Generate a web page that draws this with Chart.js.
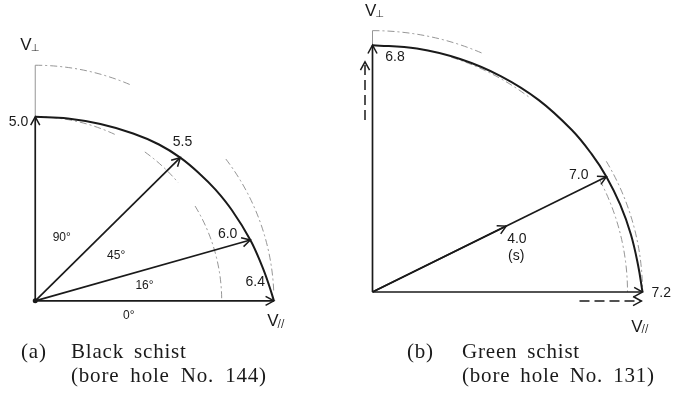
<!DOCTYPE html>
<html>
<head>
<meta charset="utf-8">
<script src="https://cdn.jsdelivr.net/npm/chart.js@4"></script>
<style>
  body { margin: 0; background: #fff; }
  #wrap { position: relative; width: 675px; height: 394px; overflow: hidden; background: #fff; }
  .panel { position: absolute; top: 0; }
  .cap {
    position: absolute;
    font-family: "Liberation Serif", "Times New Roman", serif;
    font-size: 21px;
    color: #1a1a1a;
    letter-spacing: 0.8px;
    word-spacing: 4px;
    white-space: nowrap;
    line-height: 24px;
  }
</style>
</head>
<body>
<div id="wrap">
  <div class="panel" style="left:0;width:337px;height:340px"><canvas id="chartA" width="337" height="340"></canvas></div>
  <div class="panel" style="left:337px;width:338px;height:340px"><canvas id="chartB" width="338" height="340"></canvas></div>
  <div class="cap" style="left:21px;top:339px">(a)</div>
  <div class="cap" style="left:71px;top:339px">Black schist</div>
  <div class="cap" style="left:71px;top:363px;word-spacing:5px">(bore hole No. 144)</div>
  <div class="cap" style="left:407px;top:339px">(b)</div>
  <div class="cap" style="left:462px;top:339px">Green schist</div>
  <div class="cap" style="left:462px;top:363px">(bore hole No. 131)</div>
</div>
<script>
// --------------------
// Data (velocities in km/s, angles in degrees from V//)
// --------------------

// (a) Black schist, bore hole No. 144
const anglesA = [90, 45, 16, 0];
const velocityA = [5.0, 5.5, 6.0, 6.4];
// solid curve: direction and velocity
const curveAngA = [90, 80, 70, 60, 52, 45, 38, 32, 25, 16, 9, 4, 0];
const curveVelA = [5.00, 5.03, 5.11, 5.25, 5.39, 5.50, 5.60, 5.70, 5.82, 6.00, 6.15, 6.28, 6.40];
// dashed reference circles and the parts of them that are visible
const refRadiiA = [6.4, 5.0];
const refArcsA = [[[90, 66], [37, 2]], [[90, 64], [54, 40], [31, 0]]];

// (b) Green schist, bore hole No. 131
const anglesB = [90, 27, 0];
const velocityB = [6.8, 7.0, 7.2];
const shearAngleB = 27;
const shearVelocityB = 4.0;
const curveAngB = [90, 80, 70, 60, 50, 40, 33, 27, 20, 13, 6, 0];
const curveVelB = [6.80, 6.81, 6.83, 6.86, 6.90, 6.94, 6.97, 7.00, 7.03, 7.07, 7.12, 7.20];
const refRadiiB = [7.2, 6.8];
const refArcsB = [[[90, 66], [30, 1]], [[72, 52], [27, 0]]];
// dashed direction arrows beside the axes (V//, V⊥ coordinates)
const dashUpB = [[-0.2, 4.74], [-0.2, 6.34]];
const dashRightB = [[5.52, -0.25], [7.17, -0.25]];

// --------------------
// Helpers
// --------------------
const INK = "#1a1a1a";
const FAINT = "#8a8a8a";
const NUM_FONT = "14px 'Liberation Sans', Arial, sans-serif";
const DEG_FONT = "12px 'Liberation Sans', Arial, sans-serif";

function polar(v, deg) {
  const t = deg * Math.PI / 180;
  return { x: v * Math.cos(t), y: v * Math.sin(t) };
}

function line(points, extra) {
  return Object.assign({
    data: points,
    showLine: true,
    borderColor: INK,
    borderWidth: 1.7,
    pointRadius: 0,
    tension: 0
  }, extra || {});
}

// open arrow heads at the last point of datasets flagged with arrow
const arrowPlugin = {
  id: "arrows",
  afterDatasetsDraw(chart) {
    const ctx = chart.ctx;
    chart.data.datasets.forEach((ds, i) => {
      if (!ds.arrow) return;
      const pts = chart.getDatasetMeta(i).data;
      const a = pts[pts.length - 2], b = pts[pts.length - 1];
      const ang = Math.atan2(b.y - a.y, b.x - a.x);
      const L = 9.5, w = 0.5;
      ctx.save();
      ctx.strokeStyle = INK;
      ctx.lineWidth = 1.5;
      ctx.beginPath();
      ctx.moveTo(b.x - L * Math.cos(ang - w), b.y - L * Math.sin(ang - w));
      ctx.lineTo(b.x, b.y);
      ctx.lineTo(b.x - L * Math.cos(ang + w), b.y - L * Math.sin(ang + w));
      ctx.stroke();
      ctx.restore();
    });
  }
};

// dashed reference circles, drawn through the chart's own scales
function refCirclePlugin(radii, arcs) {
  return {
    id: "refCircles",
    beforeDatasetsDraw(chart) {
      const ctx = chart.ctx;
      const xs = chart.scales.x, ys = chart.scales.y;
      const cx = xs.getPixelForValue(0), cy = ys.getPixelForValue(0);
      ctx.save();
      ctx.strokeStyle = FAINT;
      ctx.lineWidth = 0.9;
      ctx.setLineDash([7, 3, 2, 3]);
      radii.forEach((r, i) => {
        const rx = xs.getPixelForValue(r) - cx;
        const ry = cy - ys.getPixelForValue(r);
        arcs[i].forEach(([from, to]) => {
          ctx.beginPath();
          ctx.ellipse(cx, cy, rx, ry, 0, -from * Math.PI / 180, -to * Math.PI / 180, false);
          ctx.stroke();
        });
      });
      ctx.restore();
    }
  };
}

// text labels anchored at data coordinates
function labelPlugin(labels) {
  return {
    id: "labels",
    afterDraw(chart) {
      const ctx = chart.ctx;
      const xs = chart.scales.x, ys = chart.scales.y;
      ctx.save();
      ctx.fillStyle = INK;
      ctx.textBaseline = "middle";
      labels.forEach(l => {
        const px = xs.getPixelForValue(l.x), py = ys.getPixelForValue(l.y);
        if (l.sub) {
          ctx.font = "17px 'Liberation Sans', Arial, sans-serif";
          ctx.textAlign = "left";
          ctx.fillText(l.t, px, py);
          const w = ctx.measureText(l.t).width;
          ctx.font = "10px 'DejaVu Sans', sans-serif";
          ctx.fillText(l.sub, px + w - 1, py + 3);
        } else {
          ctx.font = l.small ? DEG_FONT : NUM_FONT;
          ctx.textAlign = "center";
          ctx.fillText(l.t, px, py);
        }
      });
      ctx.restore();
    }
  };
}

function makePanel(id, cfg) {
  const datasets = [];
  // solid velocity curve
  datasets.push(line(cfg.curveAng.map((a, i) => polar(cfg.curveVel[i], a)), {
    borderWidth: 2, tension: 0.4
  }));
  // thin axis extension up to the outer reference circle
  datasets.push(line([{ x: 0, y: cfg.topV }, { x: 0, y: cfg.refRadii[0] }], {
    borderColor: FAINT, borderWidth: 0.9
  }));
  // velocity vectors
  cfg.angles.forEach((a, i) => {
    datasets.push(line([{ x: 0, y: 0 }, polar(cfg.velocities[i], a)], { arrow: true }));
  });
  (cfg.extra || []).forEach(d => datasets.push(d));

  const W = cfg.width, H = cfg.height;
  return new Chart(document.getElementById(id), {
    type: "scatter",
    data: { datasets: datasets },
    options: {
      responsive: false,
      animation: false,
      events: [],
      layout: { padding: 0 },
      plugins: { legend: { display: false }, tooltip: { enabled: false } },
      scales: {
        x: { type: "linear", display: false,
             min: -cfg.ox / cfg.kx, max: (W - cfg.ox) / cfg.kx },
        y: { type: "linear", display: false,
             min: -(H - cfg.oy) / cfg.ky, max: cfg.oy / cfg.ky }
      }
    },
    plugins: [refCirclePlugin(cfg.refRadii, cfg.refArcs), arrowPlugin, labelPlugin(cfg.labels)]
  });
}

// --------------------
// Panel (a)
// --------------------
makePanel("chartA", {
  width: 337, height: 340, ox: 32, oy: 304, kx: 38.2, ky: 37.7,
  angles: anglesA, velocities: velocityA, topV: velocityA[0],
  curveAng: curveAngA, curveVel: curveVelA,
  refRadii: refRadiiA, refArcs: refArcsA,
  extra: [
    { data: [{ x: 0, y: 0 }], pointRadius: 2.5, pointBackgroundColor: INK, pointBorderWidth: 0 }
  ],
  labels: [
    { t: "V", sub: "\u22a5", x: -0.4, y: 6.95 },
    { t: velocityA[0].toFixed(1), x: -0.45, y: 4.85 },
    { t: velocityA[1].toFixed(1), x: 3.95, y: 4.32 },
    { t: velocityA[2].toFixed(1), x: 5.16, y: 1.80 },
    { t: velocityA[3].toFixed(1), x: 5.9, y: 0.5 },
    { t: anglesA[0] + "\u00b0", x: 0.71, y: 1.72, small: true },
    { t: anglesA[1] + "\u00b0", x: 2.17, y: 1.22, small: true },
    { t: anglesA[2] + "\u00b0", x: 2.93, y: 0.42, small: true },
    { t: anglesA[3] + "\u00b0", x: 2.51, y: -0.40, small: true },
    { t: "V", sub: "//", x: 6.22, y: -0.56 }
  ]
});

// --------------------
// Panel (b)
// --------------------
const shearTipB = polar(shearVelocityB, shearAngleB);
makePanel("chartB", {
  width: 338, height: 340, ox: 35.5, oy: 292, kx: 37.5, ky: 36.3,
  angles: anglesB, velocities: velocityB, topV: velocityB[0],
  curveAng: curveAngB, curveVel: curveVelB,
  refRadii: refRadiiB, refArcs: refArcsB,
  extra: [
    line([{ x: 0, y: 0 }, shearTipB], { arrow: true }),
    line(dashUpB.map(p => ({ x: p[0], y: p[1] })), { arrow: true, borderDash: [10, 5], borderWidth: 1.5 }),
    line(dashRightB.map(p => ({ x: p[0], y: p[1] })), { arrow: true, borderDash: [10, 5], borderWidth: 1.5 })
  ],
  labels: [
    { t: "V", sub: "\u22a5", x: -0.2, y: 7.74 },
    { t: velocityB[0].toFixed(1), x: 0.60, y: 6.47 },
    { t: velocityB[1].toFixed(1), x: 5.5, y: 3.22 },
    { t: shearVelocityB.toFixed(1), x: 3.85, y: 1.46 },
    { t: "(s)", x: 3.83, y: 0.99 },
    { t: velocityB[2].toFixed(1), x: 7.7, y: -0.03 },
    { t: "V", sub: "//", x: 6.9, y: -0.96 }
  ]
});
</script>
</body>
</html>
